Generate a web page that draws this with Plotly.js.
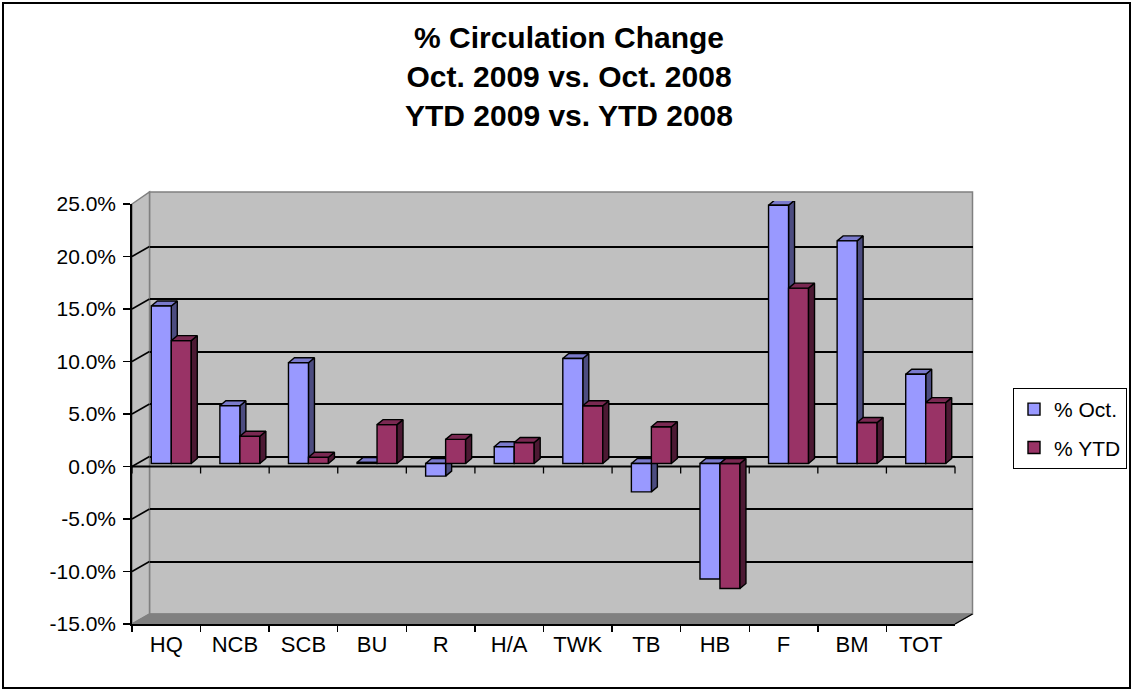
<!DOCTYPE html>
<html><head><meta charset="utf-8">
<script src="https://cdn.plot.ly/plotly-3.0.1.min.js"></script>
<style>html,body{margin:0;padding:0;background:#fff}</style>
</head><body><div id="chart" style="width:1133px;height:691px"></div>
<script>
// ---- data ----
const categories = ["HQ","NCB","SCB","BU","R","H/A","TWK","TB","HB","F","BM","TOT"];
const octValues = [15.0, 5.5, 9.6, 0.1, -1.2, 1.6, 10.0, -2.7, -11.0, 24.6, 21.2, 8.5];
const ytdValues = [11.7, 2.6, 0.6, 3.7, 2.3, 2.0, 5.5, 3.5, -11.9, 16.7, 3.9, 5.8];
const seriesNames = ["% Oct.", "% YTD"];
const yTickVals = [-15, -10, -5, 0, 5, 10, 15, 20, 25];
const yTickText = ["-15.0%","-10.0%","-5.0%","0.0%","5.0%","10.0%","15.0%","20.0%","25.0%"];
const gridVals = [-10, -5, 0, 5, 10, 15, 20];
const titleLines = ["% Circulation Change","Oct. 2009 vs. Oct. 2008","YTD 2009 vs. YTD 2008"];

// ---- geometry (pixels) ----
const W = 1133, H = 691;
const X = px => px / W;
const Y = py => 1 - py / H;
const FX0 = 132, FX1 = 955, FYT = 204, FYB = 624;      // front plane
const DEPX = 17.5, DEPY = 10;                          // wall depth offset
const BX0 = FX0 + DEPX, BX1 = FX1 + DEPX, BYT = FYT - DEPY, BYB = FYB - DEPY;
const PX = 5, PY = 3;                                   // bar plane offset
const yMin = -15, yMax = 25;
const pxPerUnit = (FYB - FYT) / (yMax - yMin);
const catPx = (FX1 - FX0) / categories.length;
const bargap = 0.417;
const w = (1 - bargap) / 2;
const ddx = 6 / catPx, ddy = 5 / pxPerUnit;

function faces(values, off) {
  const sx = [], sy = [], tx = [], ty = [];
  values.forEach((v, i) => {
    const xl = i + off, xr = xl + w;
    const top = Math.max(0, v), bot = Math.min(0, v);
    sx.push(xr, xr + ddx, xr + ddx, xr, xr, null);
    sy.push(bot, bot + ddy, top + ddy, top, bot, null);
    tx.push(xl, xl + ddx, xr + ddx, xr, xl, null);
    ty.push(top, top + ddy, top + ddy, top, top, null);
  });
  return {sx, sy, tx, ty};
}
const oF = faces(octValues, -w);
const yF = faces(ytdValues, 0);
const edge = {color: '#000', width: 1.4};
function poly(x, y, fill, xa) {
  return {type: 'scatter', mode: 'lines', x, y, fill: 'toself', fillcolor: fill,
    line: edge, xaxis: xa, yaxis: 'y3', showlegend: false, hoverinfo: 'skip'};
}

const traces = [
  {type: 'scatter', mode: 'markers', x: categories, y: categories.map(() => null),
   xaxis: 'x', yaxis: 'y', showlegend: false, hoverinfo: 'skip'},
  {type: 'scatter', mode: 'markers', x: [], y: [], xaxis: 'x2', yaxis: 'y2', showlegend: false, hoverinfo: 'skip'},
  poly(oF.sx, oF.sy, '#4C4C80', 'x3'),
  poly(oF.tx, oF.ty, '#7A7ACC', 'x3'),
  {type: 'bar', name: seriesNames[0], x: categories, y: octValues, xaxis: 'x4', yaxis: 'y3',
   marker: {color: '#9999FF', line: edge}, legendgroup: 'a'},
  {type: 'bar', name: seriesNames[1], x: categories, y: ytdValues, xaxis: 'x4', yaxis: 'y3',
   marker: {color: '#993366', line: edge}, legendgroup: 'b'},
  poly(yF.sx, yF.sy, '#4C1933', 'x5'),
  poly(yF.tx, yF.ty, '#7A2952', 'x5')
];

// ---- decorative shapes ----
const shapes = [];
function pathPx(pts) {
  return 'M' + pts.map(p => X(p[0]) + ',' + Y(p[1])).join('L') + 'Z';
}
const wallTop = BYT - 2;
shapes.push({type: 'path', xref: 'paper', yref: 'paper', layer: 'below',
  path: pathPx([[BX0, wallTop], [BX1, wallTop], [BX1, BYB], [BX0, BYB]]),
  fillcolor: '#C0C0C0', line: {color: '#808080', width: 1.5}});
shapes.push({type: 'path', xref: 'paper', yref: 'paper', layer: 'below',
  path: pathPx([[FX0, FYT], [BX0, wallTop], [BX0, BYB], [FX0, FYB]]),
  fillcolor: '#C0C0C0', line: {color: '#808080', width: 1.5}});
shapes.push({type: 'path', xref: 'paper', yref: 'paper', layer: 'below',
  path: pathPx([[FX0, FYB], [BX0, BYB], [BX1, BYB], [FX1, FYB]]),
  fillcolor: '#808080', line: {color: '#808080', width: 1}});
gridVals.forEach(v => shapes.push({type: 'line', xref: 'paper', yref: 'y', layer: 'below',
  x0: X(FX0), x1: X(BX0), y0: v, y1: v + DEPY / pxPerUnit, line: {color: '#000', width: 1.6}}));
shapes.push({type: 'line', xref: 'paper', yref: 'y', layer: 'below',
  x0: X(FX0), x1: X(FX1), y0: 0, y1: 0, line: {color: '#000', width: 1.8}});
for (let i = 0; i <= categories.length; i++) {
  const xp = X(FX0 + i * catPx);
  shapes.push({type: 'line', xref: 'paper', yref: 'y', layer: 'below',
    x0: xp, x1: xp, y0: 0, y1: -7 / pxPerUnit, line: {color: '#000', width: 1.3}});
}
shapes.push({type: 'line', xref: 'paper', yref: 'paper', layer: 'below',
  x0: X(FX1), x1: X(BX1), y0: Y(FYB), y1: Y(BYB), line: {color: '#000', width: 1.4}});
shapes.push({type: 'rect', xref: 'paper', yref: 'paper', layer: 'above',
  x0: X(3), x1: X(1130), y0: Y(688), y1: Y(3), line: {color: '#000', width: 2}});

const FONT = 'Liberation Sans, Arial, sans-serif';
const hidden = {visible: false, fixedrange: true};
const layout = {
  width: W, height: H,
  margin: {l: 0, r: 0, t: 0, b: 0, pad: 0},
  paper_bgcolor: '#fff', plot_bgcolor: 'rgba(0,0,0,0)',
  font: {family: FONT, color: '#000'},
  barmode: 'group', bargap: bargap, bargroupgap: 0,
  title: {text: titleLines.join('<br>'), font: {size: 30, family: FONT, weight: 'bold', color: '#000'},
    x: X(569), xref: 'container', xanchor: 'center', y: Y(48), yref: 'container', yanchor: 'middle'},
  xaxis: {domain: [X(FX0), X(FX1)], type: 'category', categoryorder: 'array', categoryarray: categories,
    range: [-0.5, categories.length - 0.5], anchor: 'y', showline: true, linecolor: '#000', linewidth: 1.8,
    ticks: 'outside', tickson: 'boundaries', ticklen: 6, tickwidth: 1.4, tickcolor: '#000',
    showgrid: false, zeroline: false, tickfont: {size: 22}, fixedrange: true},
  yaxis: {domain: [Y(FYB), Y(FYT)], range: [yMin, yMax], anchor: 'x', tickmode: 'array',
    tickvals: yTickVals, ticktext: yTickText, ticks: 'outside', ticklen: 7, tickwidth: 1.4, tickcolor: '#000',
    showline: true, linecolor: '#000', linewidth: 1.8, showgrid: false, zeroline: false,
    tickfont: {size: 21}, ticklabelstandoff: 3, fixedrange: true},
  xaxis2: {domain: [X(BX0), X(BX1)], range: [0, 1], anchor: 'y2', showticklabels: false, ticks: '',
    showline: false, showgrid: false, zeroline: false, fixedrange: true},
  yaxis2: {domain: [Y(BYB), Y(BYT)], range: [yMin, yMax], anchor: 'x2', tickmode: 'array', tickvals: gridVals,
    showticklabels: false, ticks: '', showgrid: true, gridcolor: '#000', gridwidth: 2,
    zeroline: false, showline: false, fixedrange: true},
  xaxis3: Object.assign({domain: [X(FX0 + PX), X(FX1 + PX)], range: [-0.5, categories.length - 0.5], anchor: 'y3'}, hidden),
  yaxis3: Object.assign({domain: [Y(FYB - PY), Y(FYT - PY)], range: [yMin, yMax], anchor: 'x3'}, hidden),
  xaxis4: Object.assign({overlaying: 'x3', type: 'category', categoryorder: 'array', categoryarray: categories,
    range: [-0.5, categories.length - 0.5], anchor: 'y3'}, hidden),
  xaxis5: Object.assign({overlaying: 'x3', range: [-0.5, categories.length - 0.5], anchor: 'y3'}, hidden),
  showlegend: true,
  legend: {x: X(1013), y: Y(388), xanchor: 'left', yanchor: 'top', bgcolor: '#fff',
    bordercolor: '#000', borderwidth: 1, font: {size: 21, family: FONT}, tracegroupgap: 8,
    traceorder: 'grouped'},
  shapes: shapes
};
Plotly.newPlot('chart', traces, layout, {displayModeBar: false, staticPlot: true});
</script>
</body></html>
